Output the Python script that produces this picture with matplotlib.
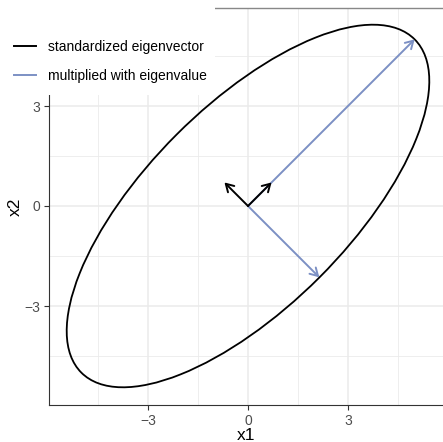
import numpy as np
import matplotlib
matplotlib.use("Agg")
import matplotlib.pyplot as plt
from matplotlib.patches import Ellipse, FancyArrowPatch, Rectangle
from matplotlib.lines import Line2D

plt.rcParams['font.family'] = ['Liberation Sans', 'DejaVu Sans']

# unit eigenvectors
unit_vectors = [(0.707, 0.707), (-0.707, 0.707)]
# eigenvectors scaled by eigenvalue
scaled_vectors = [(5.0, 5.0), (2.14, -2.14)]
# ellipse (semi-axes and rotation in degrees)
semi_axes = [7.07, 3.03]
ellipse_angle = 45.0

x_ticks = [-3, 0, 3]
y_ticks = [-3, 0, 3]
x_minor = [-4.5, -1.5, 1.5, 4.5]
y_minor = [-4.5, -1.5, 1.5, 4.5]

black = "#000000"
blue = "#7C90C4"

W, H = 443, 442
fig = plt.figure(figsize=(W / 100, H / 100), dpi=100)
ax = fig.add_axes([49 / W, (H - 405) / H, (443 - 49) / W, (405 - 8) / H])

ax.set_xlim(-5.97, 5.85)
ax.set_ylim(-5.97, 5.94)

ax.set_xticks(x_ticks)
ax.set_yticks(y_ticks)
ax.set_xticks(x_minor, minor=True)
ax.set_yticks(y_minor, minor=True)
ax.grid(True, which='major', color='#EBEBEB', linewidth=1.1, zorder=0)
ax.grid(True, which='minor', color='#EBEBEB', linewidth=0.6, zorder=0)
ax.set_axisbelow(True)
ax.tick_params(which='minor', length=0)
ax.tick_params(which='major', length=3.5, width=0.8, color='#333333',
               labelsize=10, labelcolor='#4D4D4D', pad=3)

for s in ['left', 'bottom']:
    ax.spines[s].set_color('#333333')
    ax.spines[s].set_linewidth(0.8)
ax.spines['right'].set_visible(False)
ax.spines['top'].set_color('#888888')
ax.spines['top'].set_linewidth(1.0)

ax.set_xlabel('x1', fontsize=12.5, labelpad=0)
ax.set_ylabel('x2', fontsize=12.5, labelpad=1)

ell = Ellipse((0, 0), 2 * semi_axes[0], 2 * semi_axes[1], angle=ellipse_angle,
              fill=False, edgecolor=black, linewidth=1.3, zorder=3)
ax.add_patch(ell)

style = "->,head_length=3.4,head_width=2.0"
for vx, vy in scaled_vectors:
    ax.add_patch(FancyArrowPatch((0, 0), (vx, vy), arrowstyle=style,
                                 mutation_scale=1.6, color=blue, linewidth=1.4,
                                 shrinkA=0, shrinkB=0, zorder=4))
for vx, vy in unit_vectors:
    ax.add_patch(FancyArrowPatch((0, 0), (vx, vy), arrowstyle=style,
                                 mutation_scale=1.6, color=black, linewidth=1.4,
                                 shrinkA=0, shrinkB=0, zorder=5))

# white legend backdrop in the upper left corner
fig.patches.append(Rectangle((0, (H - 95) / H), 215 / W, 95 / H,
                             transform=fig.transFigure, facecolor='white',
                             edgecolor='none', zorder=1))
handles = [Line2D([], [], color=black, linewidth=1.4),
           Line2D([], [], color=blue, linewidth=1.4)]
leg = fig.legend(handles, ['standardized eigenvector', 'multiplied with eigenvalue'],
                 loc='upper left', bbox_to_anchor=(14 / W, 1 - 40 / H),
                 frameon=False, fontsize=10, handlelength=1.6, handletextpad=0.85,
                 labelspacing=1.05, borderaxespad=0, borderpad=0)
leg.set_zorder(2)

fig.savefig('out.png', dpi=100)
